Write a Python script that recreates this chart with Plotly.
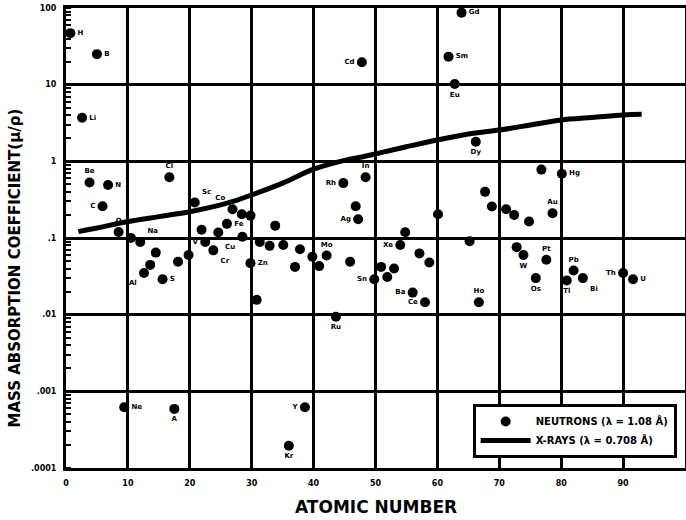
import plotly.graph_objects as go

# ---- data ----
neutron_z = [0.7, 5.0, 2.6, 3.8, 6.8, 5.9, 8.5, 10.5, 12.0, 12.6, 13.6, 14.5, 15.6, 18.1, 19.8,
             16.7, 20.8, 21.9, 22.5, 23.8, 24.6, 26.0, 26.9, 28.4, 29.8, 28.5, 29.8, 30.8, 31.3,
             32.9, 33.8, 35.1, 37.8, 37.0, 39.8, 40.9, 42.1, 45.9, 44.8, 48.4, 46.8, 47.2, 49.8,
             50.9, 51.9, 53.0, 54.0, 54.8, 57.1, 58.7, 56.0, 58.0, 60.1, 65.2, 66.7, 43.6, 47.8,
             61.8, 62.8, 63.9, 66.2, 76.8, 80.1, 67.7, 68.8, 71.1, 72.4, 74.8, 78.6, 72.8, 73.9,
             77.6, 75.9, 82.0, 80.9, 83.5, 90.0, 91.6, 9.4, 17.5, 36.0, 38.6]
neutron_mu = [47, 25, 3.7, 0.53, 0.49, 0.26, 0.12, 0.10, 0.089, 0.035, 0.0446, 0.0645, 0.029, 0.049, 0.060,
              0.62, 0.29, 0.128, 0.089, 0.069, 0.118, 0.153, 0.237, 0.204, 0.196, 0.104, 0.047, 0.0156, 0.089,
              0.079, 0.145, 0.081, 0.0715, 0.042, 0.057, 0.043, 0.059, 0.049, 0.52, 0.62, 0.26, 0.176, 0.029,
              0.042, 0.031, 0.040, 0.081, 0.119, 0.063, 0.048, 0.0194, 0.0145, 0.204, 0.091, 0.0145, 0.0094, 19.6,
              23.2, 10.2, 87, 1.8, 0.78, 0.69, 0.40, 0.257, 0.237, 0.20, 0.164, 0.21, 0.076, 0.060,
              0.052, 0.030, 0.0376, 0.028, 0.030, 0.035, 0.029, 0.00062, 0.00059, 0.000195, 0.00062]
neutron_labels = ["H", "B", "Li", "Be", "N", "C", "O", "", "Na", "Al", "", "", "S", "", "",
                  "Cl", "Sc", "", "V", "Cr", "", "Fe", "Co", "", "", "Cu", "Zn", "", "",
                  "", "", "", "", "", "", "", "Mo", "", "Rh", "In", "", "Ag", "Sn",
                  "", "", "", "Xe", "", "", "", "Ba", "Ce", "", "", "Ho", "Ru", "Cd",
                  "Sm", "Eu", "Gd", "Dy", "", "Hg", "", "", "", "", "", "Au", "", "W",
                  "Pt", "Os", "Pb", "Tl", "Bi", "Th", "U", "Ne", "A", "Kr", "Y"]
label_pos = ["middle right", "middle right", "middle right", "top center", "middle right", "middle left",
             "top center", "middle right", "top right", "bottom left", "middle right", "middle right",
             "middle right", "middle right", "middle right",
             "top center", "top right", "middle right", "middle left", "bottom right", "middle right",
             "middle right", "top left", "middle right", "middle right", "bottom left", "middle right",
             "middle right", "middle right",
             "middle right", "middle right", "middle right", "middle right", "middle right", "middle right",
             "middle right", "top center", "middle right", "middle left", "top center", "middle right",
             "middle left", "middle left",
             "middle right", "middle right", "middle right", "middle left", "middle right", "middle right",
             "middle right", "middle left", "middle left", "middle right", "middle right", "top center",
             "bottom center", "middle left",
             "middle right", "bottom center", "middle right", "bottom center", "middle right", "middle right",
             "middle right", "middle right", "middle right", "middle right", "middle right", "top center",
             "middle right", "bottom center",
             "top center", "bottom center", "top center", "bottom center", "bottom right", "middle left",
             "middle right", "middle right", "bottom center", "bottom center", "middle left"]

xray_z = [2, 5, 10, 15, 20, 25, 27, 30, 35, 40, 45, 48, 50, 55, 60, 65, 70, 75, 80, 85, 90, 93]
xray_mu = [0.121, 0.135, 0.164, 0.19, 0.22, 0.27, 0.30, 0.365, 0.52, 0.79, 1.03, 1.15, 1.25, 1.55,
           1.9, 2.27, 2.56, 2.98, 3.47, 3.73, 4.03, 4.1]

y_tickvals = [0.0001, 0.001, 0.01, 0.1, 1, 10, 100]
y_ticktext = [".0001", ".001", ".01", ".1", "1", "10", "100"]
x_tickvals = [0, 10, 20, 30, 40, 50, 60, 70, 80, 90, 100]

FONT = "DejaVu Sans"

fig = go.Figure()
fig.add_trace(go.Scatter(
    x=neutron_z, y=neutron_mu, mode="markers",
    marker=dict(color="black", size=10),
    name="NEUTRONS (λ = 1.08 Å)",
))
fig.add_trace(go.Scatter(
    x=xray_z, y=xray_mu, mode="lines",
    line=dict(color="black", width=5, shape="spline"),
    name="X-RAYS (λ = 0.708 Å)",
))
fig.add_trace(go.Scatter(
    x=neutron_z, y=neutron_mu, mode="markers+text",
    marker=dict(color="rgba(0,0,0,0)", size=10),
    text=neutron_labels, textposition=label_pos,
    textfont=dict(family=FONT, size=7, color="black", weight="bold"),
    showlegend=False, hoverinfo="skip",
))

axis_common = dict(
    showline=True, linecolor="black", linewidth=3, mirror=True,
    showgrid=True, gridcolor="black", gridwidth=2.5,
    zeroline=False, automargin=False,
    tickfont=dict(family=FONT, size=8, color="black", weight="bold"),
    ticks="", ticklabelstandoff=5,
)

fig.update_xaxes(range=[0, 100], tickvals=x_tickvals, ticktext=[str(v) for v in x_tickvals], **axis_common)
fig.update_yaxes(type="log", range=[-4, 2], tickvals=y_tickvals, ticktext=y_ticktext,
                 minor=dict(ticks="inside", ticklen=5, tickwidth=1.5, tickcolor="black",
                            dtick="D1", showgrid=False),
                 **axis_common)

fig.add_annotation(text="ATOMIC NUMBER", xref="paper", yref="paper", x=0.5, y=-0.085,
                   showarrow=False, xanchor="center", yanchor="middle",
                   font=dict(family=FONT, size=17, color="black", weight="bold"))
fig.add_annotation(text="MASS ABSORPTION COEFFICIENT(μ/ρ)", xref="paper", yref="paper",
                   x=-0.083, y=0.435, textangle=-90, showarrow=False,
                   xanchor="center", yanchor="middle",
                   font=dict(family=FONT, size=15, color="black", weight="bold"))

fig.update_layout(
    width=686, height=520,
    margin=dict(l=66, r=1, t=8, b=52, autoexpand=False),
    paper_bgcolor="white", plot_bgcolor="white",
    legend=dict(x=0.657, y=0.139, xanchor="left", yanchor="top",
                bgcolor="white", bordercolor="black", borderwidth=3,
                font=dict(family=FONT, size=10, color="black", weight="bold"),
                itemwidth=50, tracegroupgap=2),
    showlegend=True,
)

fig.write_html("out.html", config={"displayModeBar": False},
               post_script="document.body.style.margin='0px';")
